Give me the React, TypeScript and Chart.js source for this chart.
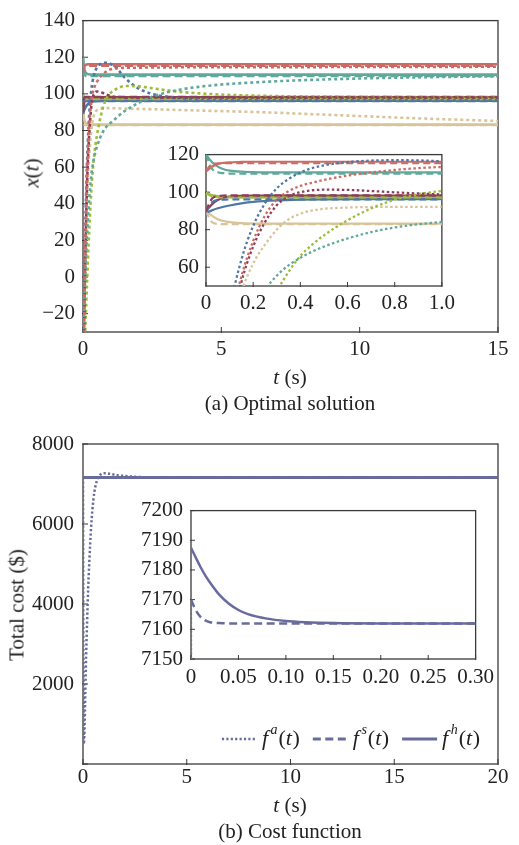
import React, { useEffect, useRef } from 'react';
import { Chart, registerables } from 'chart.js';

Chart.register(...registerables);

const FONT = "'Liberation Serif', 'Times New Roman', serif";

// ---------- Panel (a): optimal solution x(t) ----------
// time grid of the f^a (dotted) trajectories
const T_A = [0, 0.05, 0.1, 0.15, 0.2, 0.25, 0.3, 0.35, 0.4, 0.45, 0.5, 0.6, 0.7, 0.8, 0.9, 1.0, 1.25, 1.5, 2, 2.5, 3, 3.5, 4, 5, 6, 7, 8, 10, 12, 15];
const XA_RED = [-70, -15, 28, 55, 74, 87.5, 96, 100.5, 103.3, 105, 106.5, 108.8, 110.5, 111.8, 112.8, 113.4, 114, 114.2, 114.3, 114.4, 114.4, 114.5, 114.5, 114.5, 114.6, 114.6, 114.6, 114.7, 114.7, 114.8];
const XA_TEAL = [-35, -12, 8, 24, 37, 48, 55.5, 61, 65, 68.3, 71, 75.3, 78.7, 81.2, 82.9, 84.2, 87.5, 90.5, 95, 98.4, 100.7, 102.3, 103.5, 105.1, 106.1, 106.9, 107.5, 108.4, 109, 109.6];
const XA_MAROON = [-72, -20, 22, 52, 71, 84, 93, 97.8, 100, 101, 101.3, 101.2, 100.6, 99.9, 99.3, 98.8, 98.3, 98.1, 98, 98, 98, 98, 98, 98, 98, 98, 98, 98, 98, 98];
const XA_GREEN = [-62, -42, -22, -2, 17, 33, 47, 57.5, 66, 72, 77, 85, 91.3, 96, 98.9, 100.6, 103, 104.3, 104.1, 103.1, 102, 101.1, 100.5, 99.6, 99.1, 98.8, 98.6, 98.4, 98.3, 98.2];
const XA_BLUE = [-67, -4, 37, 64, 82, 94, 102, 107, 110.5, 112.8, 114.3, 116, 116.8, 117, 116.9, 116.4, 113.5, 109, 103, 100, 98.5, 97.6, 97.1, 96.7, 96.5, 96.5, 96.5, 96.5, 96.5, 96.5];
const XA_TAN = [-60, -18, 18, 46, 62, 72, 80, 85.5, 88.5, 90.2, 91.1, 91.8, 92.1, 92.2, 92.2, 92.2, 92.1, 92, 91.8, 91.6, 91.4, 91.2, 91, 90.6, 90.2, 89.7, 89.1, 87.9, 86.7, 85.2];

// time grid of the f^s (dashed) and f^h (solid) trajectories
const T_SH = [0, 0.025, 0.05, 0.075, 0.1, 0.15, 0.2, 0.3, 0.4, 0.5, 0.7, 1, 15];
const XS_RED = [111.5, 114.8, 115.3, 115.4, 115.4, 115.4, 115.4, 115.4, 115.4, 115.4, 115.4, 115.4, 115.4];
const XH_RED = [111, 113.5, 115, 115.6, 115.9, 116.1, 116.2, 116.2, 116.2, 116.2, 116.2, 116.2, 116.2];
const XS_TEAL = [120, 112.5, 110.6, 110.1, 109.9, 109.8, 109.8, 109.8, 109.8, 109.8, 109.8, 109.8, 109.8];
const XH_TEAL = [120, 116, 113.6, 112.2, 111.5, 110.9, 110.7, 110.5, 110.5, 110.5, 110.5, 110.5, 110.5];
const XS_MAROON = [90, 96.5, 97.8, 98.2, 98.3, 98.3, 98.3, 98.3, 98.3, 98.3, 98.3, 98.3, 98.3];
const XH_MAROON = [90, 93.5, 95.8, 97, 97.6, 98, 98.1, 98.1, 98.1, 98.1, 98.1, 98.1, 98.1];
const XS_GREEN = [99.5, 97.8, 97.3, 97.2, 97.2, 97.2, 97.2, 97.2, 97.2, 97.2, 97.2, 97.2, 97.2];
const XH_GREEN = [99.5, 98.5, 97.9, 97.6, 97.4, 97.3, 97.3, 97.3, 97.3, 97.3, 97.3, 97.3, 97.3];
const XS_BLUE = [89, 94.5, 95.8, 96, 96.1, 96.1, 96.1, 96.1, 96.1, 96.1, 96.1, 96.1, 96.1];
const XH_BLUE = [89, 90.3, 91.4, 92.2, 92.9, 94, 94.8, 95.6, 96, 96.2, 96.3, 96.3, 96.3];
const XS_TAN = [90, 84, 83.1, 83, 83, 83, 83, 83, 83, 83, 83, 83, 83];
const XH_TAN = [90, 87.5, 85.6, 84.6, 84, 83.5, 83.3, 83.2, 83.2, 83.2, 83.2, 83.2, 83.2];

const XA_ALL = [XA_RED, XA_TEAL, XA_MAROON, XA_GREEN, XA_BLUE, XA_TAN];
const XS_ALL = [XS_RED, XS_TEAL, XS_MAROON, XS_GREEN, XS_BLUE, XS_TAN];
const XH_ALL = [XH_RED, XH_TEAL, XH_MAROON, XH_GREEN, XH_BLUE, XH_TAN];
const UNIT_COLORS = ['#cc6b66', '#5fa99b', '#8e3f58', '#9cbd3b', '#4e77a5', '#d8c499'];

const A_X_TICKS = [0, 5, 10, 15];
const A_Y_TICKS = [-20, 0, 20, 40, 60, 80, 100, 120, 140];
const AI_X_TICKS = [0, 0.2, 0.4, 0.6, 0.8, 1.0];
const AI_Y_TICKS = [60, 80, 100, 120];

// ---------- Panel (b): total cost ----------
const TB_A = [0, 0.01, 0.02, 0.03, 0.04, 0.06, 0.08, 0.1, 0.15, 0.2, 0.25, 0.3, 0.4, 0.5, 0.6, 0.7, 0.8, 0.9, 1.0, 1.2, 1.4, 1.6, 2, 2.5, 3, 4, 5, 20];
const COST_A = [7170, 4500, 2000, 800, 500, 650, 1000, 1500, 2700, 3600, 4400, 5000, 6000, 6600, 6950, 7120, 7210, 7255, 7270, 7265, 7245, 7225, 7200, 7180, 7170, 7164, 7162, 7162];
const TB_SH = [0, 0.005, 0.01, 0.015, 0.02, 0.03, 0.04, 0.05, 0.06, 0.08, 0.1, 0.12, 0.15, 0.2, 0.3, 20];
const COST_S = [7170, 7166.5, 7164.2, 7163, 7162.4, 7162.1, 7162, 7162, 7162, 7162, 7162, 7162, 7162, 7162, 7162, 7162];
const COST_H = [7187.5, 7184.2, 7181, 7178.2, 7175.8, 7171.6, 7168.6, 7166.5, 7165.1, 7163.6, 7162.8, 7162.4, 7162.1, 7162, 7162, 7162];
const COST_COLOR = '#686b9d';

const B_X_TICKS = [0, 5, 10, 15, 20];
const B_Y_TICKS = [0, 2000, 4000, 6000, 8000];
const B_Y_LABELED = [2000, 4000, 6000, 8000];
const BI_X_TICKS = [0, 0.05, 0.1, 0.15, 0.2, 0.25, 0.3];
const BI_Y_TICKS = [7150, 7160, 7170, 7180, 7190, 7200];

const LEGEND_SUPS = ['a', 's', 'h'];

// ---------- helpers ----------
const pts = (xs: number[], ys: number[]) => xs.map((x, i) => ({ x, y: ys[i] }));

function line(data: any[], color: string, width: number, dash: number[]) {
  return {
    data,
    borderColor: color,
    backgroundColor: color,
    borderWidth: width,
    borderDash: dash,
    borderCapStyle: 'butt',
    pointRadius: 0,
    pointHoverRadius: 0,
    fill: false,
    cubicInterpolationMode: 'monotone',
    clip: 0,
  };
}

const framePlugin = {
  id: 'frame',
  beforeDatasetsDraw(chart: any, _args: any, opts: any) {
    const { ctx, chartArea } = chart;
    const { left, right, top, bottom } = chartArea;
    const len = opts.tickLen || 5;
    ctx.save();
    ctx.strokeStyle = '#3a3a3a';
    ctx.lineWidth = 1.3;
    ctx.strokeRect(left, top, right - left, bottom - top);
    ctx.lineWidth = 1;
    ctx.beginPath();
    const xs = chart.scales.x;
    const ys = chart.scales.y;
    xs.ticks.forEach((t: any) => {
      const p = xs.getPixelForValue(t.value);
      ctx.moveTo(p, bottom + 1);
      ctx.lineTo(p, bottom - len);
    });
    ys.ticks.forEach((t: any) => {
      const p = ys.getPixelForValue(t.value);
      ctx.moveTo(left - 1, p);
      ctx.lineTo(left + len, p);
    });
    ctx.stroke();
    ctx.restore();
  },
};

const costLegendPlugin = {
  id: 'costLegend',
  afterDraw(chart: any) {
    const { ctx, chartArea } = chart;
    const y = chartArea.bottom - 25;
    const big = `22px ${FONT}`;
    const bigI = `italic 22px ${FONT}`;
    const sup = `italic 14px ${FONT}`;
    const dashes = [[2.2, 2.2], [8, 4.5], []];
    const sampleLen = 35;
    const gap = 5;
    const itemGap = 13;
    ctx.save();
    const parts = (s: string) => [
      { t: 'f', f: bigI, dy: 0, after: 2.5 },
      { t: s, f: sup, dy: -9, after: 1 },
      { t: '(', f: big, dy: 0, after: 0 },
      { t: 't', f: bigI, dy: 0, after: 0.5 },
      { t: ')', f: big, dy: 0, after: 0 },
    ];
    const widths = LEGEND_SUPS.map((s) =>
      parts(s).reduce((w, p) => {
        ctx.font = p.f;
        return w + ctx.measureText(p.t).width + p.after;
      }, 0)
    );
    const total = widths.reduce((a, w) => a + sampleLen + gap + w, 0) + itemGap * (LEGEND_SUPS.length - 1);
    let x = chartArea.right - 18 - total;
    LEGEND_SUPS.forEach((s, i) => {
      ctx.strokeStyle = COST_COLOR;
      ctx.lineWidth = i === 0 ? 2.4 : 2.8;
      ctx.setLineDash(dashes[i]);
      ctx.beginPath();
      ctx.moveTo(x, y);
      ctx.lineTo(x + sampleLen, y);
      ctx.stroke();
      ctx.setLineDash([]);
      x += sampleLen + gap;
      ctx.fillStyle = '#222';
      ctx.textBaseline = 'middle';
      ctx.textAlign = 'left';
      parts(s).forEach((p) => {
        ctx.font = p.f;
        ctx.fillText(p.t, x, y + p.dy);
        x += ctx.measureText(p.t).width + p.after;
      });
      x += itemGap;
    });
    ctx.restore();
  },
};

type AxisSpec = {
  min: number;
  max: number;
  ticks: number[];
  labeled?: number[];
  fmt: (v: number) => string;
  size: number;
  pad: number;
};

function makeConfig(datasets: any[], x: AxisSpec, y: AxisSpec, padding: any, tickLen: number, extra: any[] = []) {
  const tickFont = { family: FONT, size: 21 };
  const lbl = (spec: AxisSpec) => (v: any) => {
    const n = Number(v);
    if (spec.labeled && !spec.labeled.some((l) => Math.abs(l - n) < 1e-9)) return '';
    return spec.fmt(n);
  };
  return {
    type: 'line',
    data: { datasets },
    plugins: [framePlugin, ...extra],
    options: {
      responsive: false,
      maintainAspectRatio: false,
      animation: false,
      events: [],
      layout: { padding },
      plugins: {
        legend: { display: false },
        tooltip: { enabled: false },
        frame: { tickLen },
      },
      elements: { line: { capBezierPoints: false } },
      scales: {
        x: {
          type: 'linear',
          min: x.min,
          max: x.max,
          afterBuildTicks: (s: any) => {
            s.ticks = x.ticks.map((v) => ({ value: v }));
          },
          afterFit: (s: any) => {
            s.height = x.size;
          },
          ticks: { callback: lbl(x), font: tickFont, color: '#222', padding: x.pad, maxRotation: 0, minRotation: 0, autoSkip: false },
          grid: { display: false, drawTicks: false },
          border: { display: false },
        },
        y: {
          type: 'linear',
          min: y.min,
          max: y.max,
          afterBuildTicks: (s: any) => {
            s.ticks = y.ticks.map((v) => ({ value: v }));
          },
          afterFit: (s: any) => {
            s.width = y.size;
          },
          ticks: { callback: lbl(y), font: tickFont, color: '#222', padding: y.pad, autoSkip: false },
          grid: { display: false, drawTicks: false },
          border: { display: false },
        },
      },
    },
  };
}

const fmtNum = (v: number) => (v < 0 ? '\u2212' + Math.abs(v) : String(v));

function panelADatasets(wSolid: number, wDot: number, dot: number[], dash: number[]) {
  const ds: any[] = [];
  XA_ALL.forEach((ys, k) => ds.push(line(pts(T_A, ys), UNIT_COLORS[k], wDot, dot)));
  XS_ALL.forEach((ys, k) => ds.push(line(pts(T_SH, ys), UNIT_COLORS[k], wSolid, dash)));
  XH_ALL.forEach((ys, k) => ds.push(line(pts(T_SH, ys), UNIT_COLORS[k], wSolid, [])));
  return ds;
}

function panelBDatasets(wSolid: number, wDot: number) {
  return [
    line(pts(TB_A, COST_A), COST_COLOR, wDot, [2.2, 2.2]),
    line(pts(TB_SH, COST_S), COST_COLOR, wSolid, [8, 4.5]),
    line(pts(TB_SH, COST_H), COST_COLOR, wSolid, []),
  ];
}

const abs = (l: number, t: number, w: number, h: number): React.CSSProperties => ({
  position: 'absolute',
  left: l,
  top: t,
  width: w,
  height: h,
});

const textStyle = (cx: number, cy: number, rot = 0): React.CSSProperties => ({
  position: 'absolute',
  left: cx,
  top: cy,
  transform: `translate(-50%, -50%)${rot ? ` rotate(${rot}deg)` : ''}`,
  whiteSpace: 'nowrap',
  fontFamily: FONT,
  fontSize: 21,
  lineHeight: 1,
  color: '#222',
});

export default function App() {
  const refA = useRef<HTMLCanvasElement>(null);
  const refAi = useRef<HTMLCanvasElement>(null);
  const refB = useRef<HTMLCanvasElement>(null);
  const refBi = useRef<HTMLCanvasElement>(null);

  useEffect(() => {
    const charts: Chart[] = [];
    charts.push(
      new Chart(
        refA.current as HTMLCanvasElement,
        makeConfig(
          panelADatasets(2.6, 2.6, [3, 3], [8, 4]),
          { min: 0, max: 15, ticks: A_X_TICKS, fmt: fmtNum, size: 33, pad: 5 },
          { min: -30, max: 140, ticks: A_Y_TICKS, fmt: fmtNum, size: 83, pad: 8 },
          { top: 13, right: 21, bottom: 0, left: 0 },
          5
        ) as any
      )
    );
    charts.push(
      new Chart(
        refAi.current as HTMLCanvasElement,
        makeConfig(
          panelADatasets(2.2, 2.3, [2.5, 2.5], [7, 4]),
          { min: 0, max: 1, ticks: AI_X_TICKS, fmt: (v) => (v === 0 ? '0' : v.toFixed(1)), size: 29, pad: 5 },
          { min: 50, max: 120, ticks: AI_Y_TICKS, fmt: fmtNum, size: 46, pad: 7 },
          { top: 15, right: 15, bottom: 0, left: 0 },
          4
        ) as any
      )
    );
    charts.push(
      new Chart(
        refB.current as HTMLCanvasElement,
        makeConfig(
          panelBDatasets(2.8, 2.5),
          { min: 0, max: 20, ticks: B_X_TICKS, fmt: fmtNum, size: 36, pad: 1 },
          { min: 0, max: 8000, ticks: B_Y_TICKS, labeled: B_Y_LABELED, fmt: fmtNum, size: 83, pad: 9 },
          { top: 24, right: 21, bottom: 0, left: 0 },
          5,
          [costLegendPlugin]
        ) as any
      )
    );
    charts.push(
      new Chart(
        refBi.current as HTMLCanvasElement,
        makeConfig(
          panelBDatasets(2.5, 2.2),
          { min: 0, max: 0.3, ticks: BI_X_TICKS, fmt: (v) => (v === 0 ? '0' : v.toFixed(2)), size: 26, pad: 6 },
          { min: 7150, max: 7200, ticks: BI_Y_TICKS, fmt: fmtNum, size: 51, pad: 8 },
          { top: 18, right: 24, bottom: 0, left: 0 },
          4
        ) as any
      )
    );
    return () => charts.forEach((c) => c.destroy());
  }, []);

  return (
    <div style={{ position: 'absolute', left: 0, top: 0, width: 519, height: 845, background: '#fff', overflow: 'hidden' }}>
      <canvas ref={refA} width={519} height={365} style={abs(0, 0, 519, 365)} />
      <canvas ref={refAi} width={300} height={180} style={abs(160, 135, 300, 180)} />
      <canvas ref={refB} width={519} height={380} style={abs(0, 420, 519, 380)} />
      <canvas ref={refBi} width={360} height={195} style={abs(140, 490, 360, 195)} />

      <div style={textStyle(32, 173, -90)}>
        <i>x</i>(<i>t</i>)
      </div>
      <div style={textStyle(290, 377)}>
        <i>t</i> (s)
      </div>
      <div style={textStyle(290, 403)}>(a) Optimal solution</div>

      <div style={textStyle(17, 605, -90)}>Total cost ($)</div>
      <div style={textStyle(290, 805)}>
        <i>t</i> (s)
      </div>
      <div style={textStyle(290, 831)}>(b) Cost function</div>
    </div>
  );
}
